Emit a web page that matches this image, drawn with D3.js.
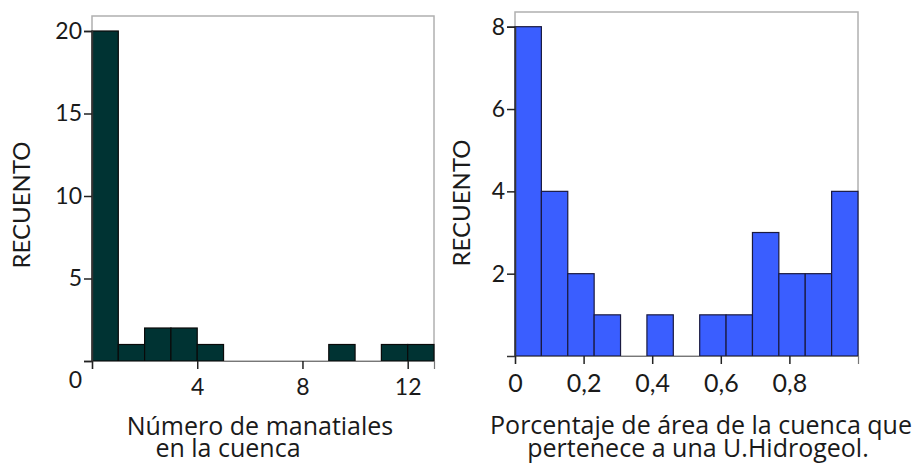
<!DOCTYPE html>
<html><head><meta charset="utf-8">
<script src="https://cdn.jsdelivr.net/npm/d3@7"></script>
<style>
body{margin:0;background:#fff;}
text{font-family:Lato,"Open Sans",sans-serif;fill:#1a1a1a;}
text.title{font-family:"Open Sans",Lato,sans-serif;}
</style></head>
<body>
<svg id="c" width="917" height="463"></svg>
<script>
// Left histogram: number of springs in the basin (bins of width 1)
const leftBinStarts = [0,1,2,3,4,5,6,7,8,9,10,11,12];
const leftCounts    = [20,1,2,2,1,0,0,0,0,1,0,1,1];
const leftYTicks = [0,5,10,15,20];
const leftXTicks = [0,4,8,12];
// Right histogram: share of basin area in a hydrogeological unit (13 bins over 0..1)
const rightBinStarts = [0,1,2,3,4,5,6,7,8,9,10,11,12].map(i=>i/13);
const rightCounts    = [8,4,2,1,0,1,0,1,1,3,2,2,4];
const rightYTicks = [2,4,6,8];
const rightXTicks = [0,0.2,0.4,0.6,0.8];
const rightXLabels = ["0","0,2","0,4","0,6","0,8"];

const svg = d3.select("#c");

function hist(o){
  const g = svg.append("g");
  // frame
  g.append("rect").attr("x",o.x0).attr("y",o.top).attr("width",o.x1-o.x0).attr("height",o.y0-o.top)
    .attr("fill","none").attr("stroke","#b0b0b0").attr("stroke-width",1.5);
  const x = d3.scaleLinear().domain(o.xd).range([o.x0,o.x1]);
  const y = d3.scaleLinear().domain(o.yd).range([o.y0,o.y1]);
  const data = o.starts.map((s,i)=>({s, e:s+o.bw, c:o.counts[i]})).filter(d=>d.c>0);
  g.selectAll("rect.bar").data(data).join("rect").attr("class","bar")
    .attr("x",d=>x(d.s)).attr("width",d=>x(d.e)-x(d.s))
    .attr("y",d=>y(d.c)).attr("height",d=>y(0)-y(d.c))
    .attr("fill",o.fill).attr("stroke",o.stroke).attr("stroke-width",1.2);
  // axes
  const ya = g.append("g").attr("transform",`translate(${o.x0},0)`)
    .call(d3.axisLeft(y).tickValues(o.yTicks).tickSize(8).tickPadding(2).tickFormat(d3.format("d")));
  ya.select(".domain").attr("stroke","#333").attr("stroke-width",1.5);
  ya.selectAll(".tick line").attr("stroke","#222").attr("stroke-width",1.5);
  ya.selectAll(".tick text").style("font-size",o.yfs+"px").attr("fill","#1a1a1a");
  if(o.zeroShift) ya.selectAll(".tick text").filter(d=>d===0).attr("dy","1.15em").attr("dx","0");
  const xa = g.append("g").attr("transform",`translate(0,${o.y0})`)
    .call(d3.axisBottom(x).tickValues(o.xTicks).tickSize(8).tickPadding(o.xpad).tickFormat(o.xfmt));
  xa.select(".domain").attr("stroke","#777").attr("stroke-width",1.2);
  xa.selectAll(".tick line").attr("stroke","#222").attr("stroke-width",1.5);
  xa.selectAll(".tick text").style("font-size",o.xfs+"px").attr("fill","#1a1a1a");
  // titles
  g.append("text").attr("transform",`translate(${o.ytx},${o.yty}) rotate(-90)`)
    .attr("text-anchor","middle").attr("dy","0.35em").style("font-size",o.ytfs+"px").text("RECUENTO");
  o.xt.forEach(t=>{
    g.append("text").attr("class","title").attr("x",t.x).attr("y",t.y).attr("text-anchor","middle")
      .style("font-size",o.xtfs+"px").text(t.s);
  });
}

hist({x0:92,x1:434,top:16,y0:361,y1:31,xd:[0,13],yd:[0,20],starts:leftBinStarts,bw:1,counts:leftCounts,
  fill:"#003333",stroke:"#0a0a0a",yTicks:leftYTicks,xTicks:leftXTicks,xfmt:d=>d===0?"":d,
  yfs:23,xfs:23,xpad:10,zeroShift:true,ytx:22,yty:205,ytfs:24,xtfs:25,
  xt:[{x:260,y:435,s:"Número de manatiales"},{x:228,y:457,s:"en la cuenca"}]});

hist({x0:515,x1:858,top:12,y0:356,y1:26.7,xd:[0,1],yd:[0,8],starts:rightBinStarts,bw:1/13,counts:rightCounts,
  fill:"#3a5eff",stroke:"#1a1a40",yTicks:rightYTicks,xTicks:rightXTicks,xfmt:(d,i)=>rightXLabels[i],
  yfs:23,xfs:25,xpad:10,zeroShift:false,ytx:462,yty:203,ytfs:24,xtfs:25,
  xt:[{x:701,y:434,s:"Porcentaje de área de la cuenca que"},{x:698,y:457,s:"pertenece a una U.Hidrogeol."}]});
</script>
</body></html>
